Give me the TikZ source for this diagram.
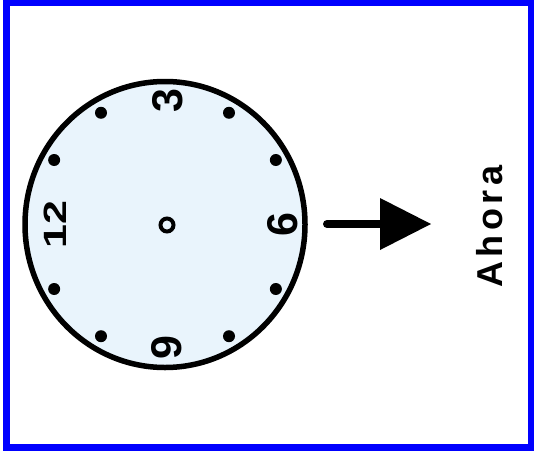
\documentclass[tikz,border=0pt]{standalone}
\usepackage{fontspec}
\setmainfont{Liberation Sans}
\usetikzlibrary{shapes.geometric}
\definecolor{clockfill}{RGB}{233,244,252}
\definecolor{frameblue}{RGB}{0,0,255}
\tikzset{
  face/.style={ellipse, draw=black, line width=5.5pt, fill=clockfill, inner sep=0pt,
    minimum width=280pt, minimum height=286pt},
  hub/.style={circle, draw=black, line width=4pt, inner sep=0pt, minimum size=13pt},
  hourdot/.style={circle, fill=black, inner sep=0pt, minimum size=12pt},
  numeral/.style={rotate=90, inner sep=0pt, font=\bfseries\fontsize{43}{43}\selectfont},
  label/.style={rotate=90, inner sep=0pt, font=\bfseries\fontsize{36}{36}\selectfont},
  connector/.style={line width=8pt, line cap=round, draw=black},
}
\begin{document}
\begin{tikzpicture}[x=1pt,y=-1pt]
\useasboundingbox (0,0) rectangle (534,455);
\fill[white] (0,0) rectangle (534,455);
\draw[frameblue, line width=7pt] (6,2.5) rectangle (531,447.5);
% clock face
\node[face] (clock) at (165,224.5) {};
\node[hub] (hubc) at (167,225) {};
% hour dots
\foreach \a/\n in {150/d1,120/d2,60/d4,30/d5,-30/d7,-60/d8,-120/d10,-150/d11}
  \node[hourdot] (\n) at ({165+128*cos(\a)},{224.5-129*sin(\a)}) {};
% numerals
\node[numeral] (n12) at (55,224.5) {\scalebox{1}[0.75]{12}};
\node[numeral] (n3) at (168,101) {3};
\node[numeral] (n6) at (283,225) {6};
\node[numeral] (n9) at (167,348) {9};
% arrow
\coordinate (astart) at (327,224);
\coordinate (abase) at (382,224);
\coordinate (atip) at (431,224);
\draw[connector] (astart) -- (abase);
\fill[black] (380,198) -- (atip) -- (380,250) -- cycle;
% label
\node[label] (ahora) at (490,226.5) {A\kern4.5pt h\kern4.5pt o\kern4.5pt r\kern4.5pt a};
\end{tikzpicture}
\end{document}
